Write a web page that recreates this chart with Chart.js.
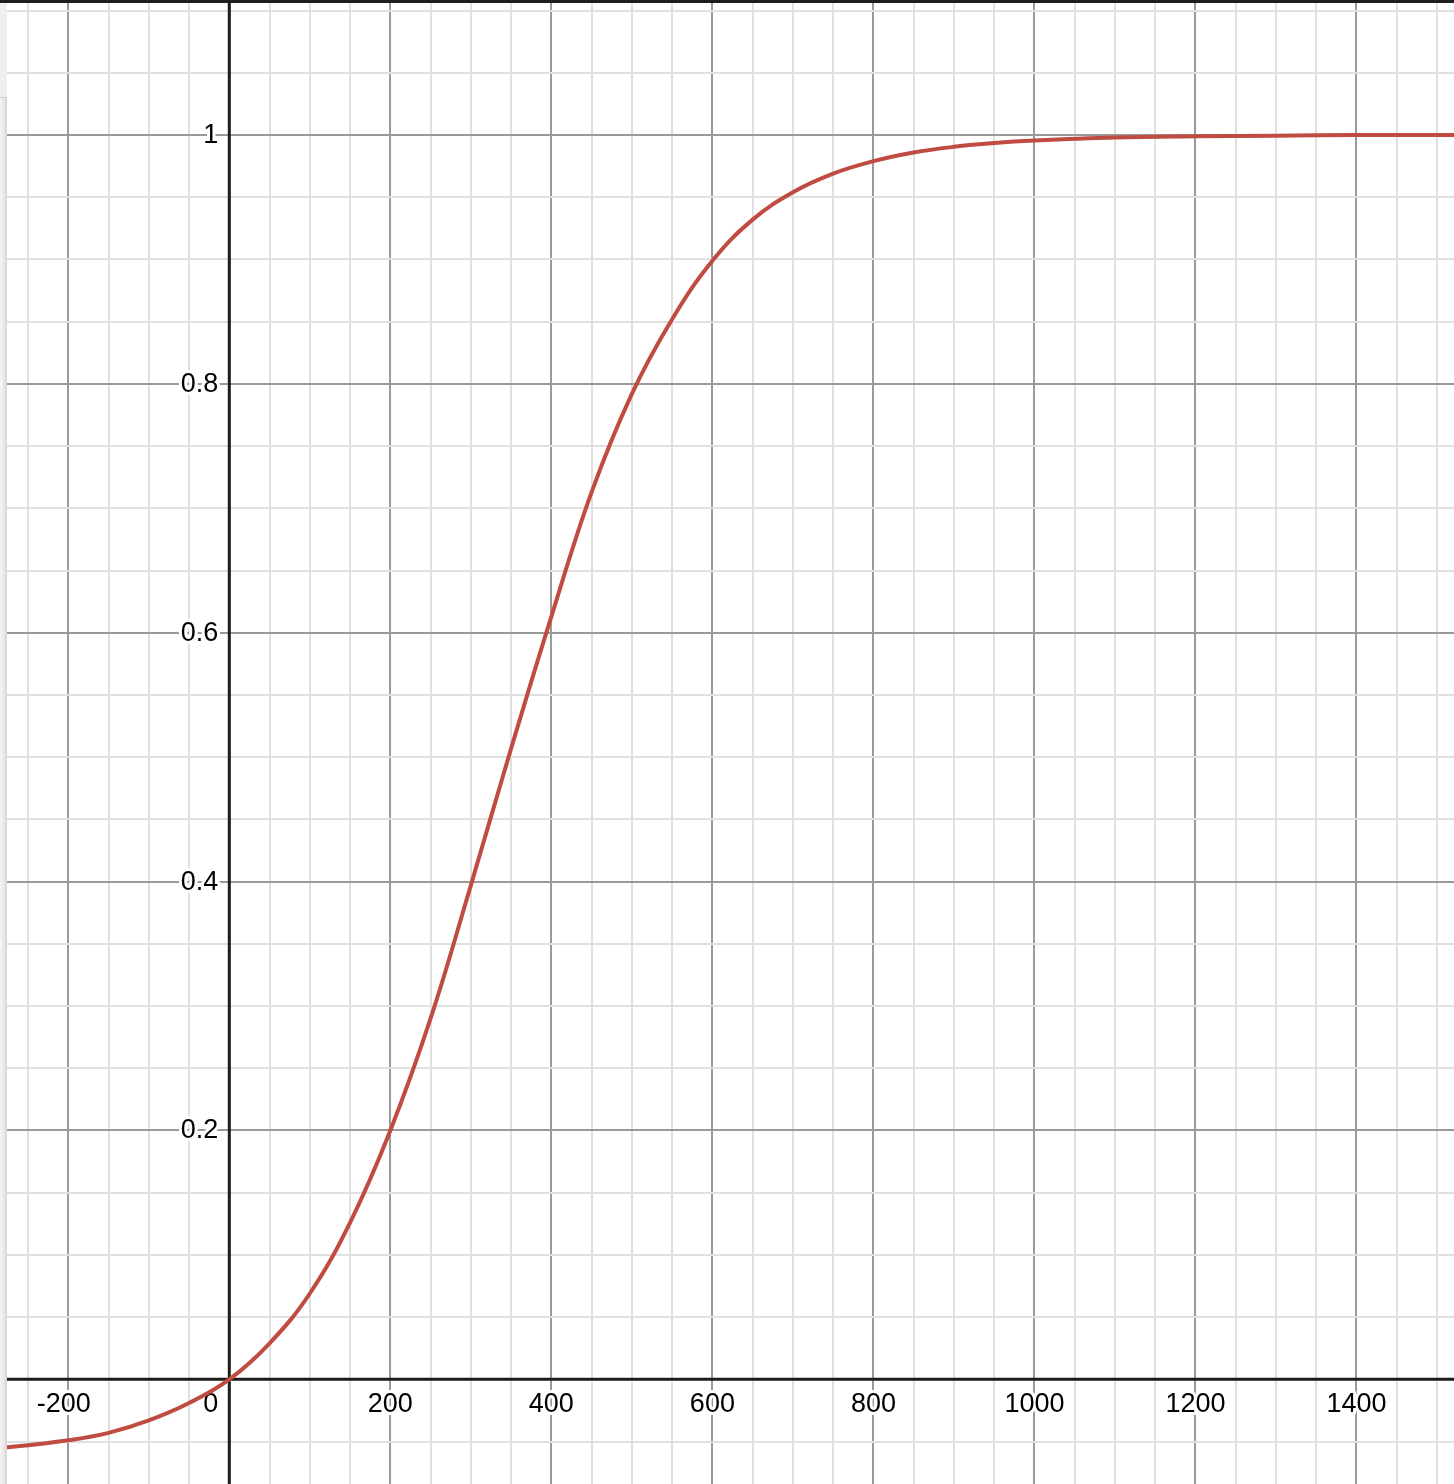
<!DOCTYPE html>
<html>
<head>
<meta charset="utf-8">
<script src="https://cdn.jsdelivr.net/npm/chart.js@4.4.0/dist/chart.umd.min.js"></script>
<style>
  html, body { margin: 0; padding: 0; background: #fff; }
  #wrap { position: relative; width: 1454px; height: 1484px; overflow: hidden; }
  #topbar { position: absolute; left: 0; top: 0; width: 1454px; height: 3px; background: #1e1e1e; }
  #side { position: absolute; left: 0; top: 0; width: 7px; height: 1484px;
          background: linear-gradient(to right, #f5f5f5, #e8e8e8 55%, #d4d4d4); }
  #sidepanel { position: absolute; left: 0; top: 3px; width: 7px; height: 94px;
               background: #efefef; border-bottom: 1px solid #cfcfcf; }
</style>
</head>
<body>
<div id="wrap">
  <canvas id="chart"></canvas>
  <div id="side"></div>
  <div id="sidepanel"></div>
  <div id="topbar"></div>
</div>
<script>
// curve
const xValues = [-285, -250, -200, -150, -100, -50, 0, 50, 100, 150, 200, 250, 300, 350, 400,
  450, 500, 550, 600, 650, 700, 750, 800, 850, 900, 950, 1000, 1100, 1200, 1300, 1400, 1525];
const yValues = [-0.055, -0.053, -0.049, -0.043, -0.033, -0.019, 0, 0.029, 0.069, 0.126, 0.2, 0.29,
  0.397, 0.507, 0.613, 0.713, 0.792, 0.852, 0.899, 0.932, 0.954, 0.969, 0.979, 0.986, 0.9905, 0.9935,
  0.9955, 0.998, 0.999, 0.9995, 1.0, 1.0];

const xTickLabels = ["-200", "0", "200", "400", "600", "800", "1000", "1200", "1400"];
const yTickLabels = ["0.2", "0.4", "0.6", "0.8", "1"];

// visible window
const xMin = -284.8, xMax = 1521.1;
const yMin = -0.0841, yMax = 1.1085;

const minorColor = "#e0e0e0";
const majorColor = "#9a9a9a";
const labelFont = "27px 'Liberation Sans', Arial, sans-serif";

const xGrid = [];
for (let v = -250; v <= 1500; v += 50) xGrid.push(v);
const yGrid = [];
for (let k = -1; k <= 22; k++) yGrid.push(Math.round(k * 5) / 100);

const axesPlugin = {
  id: "axesAndLabels",
  beforeDatasetsDraw(chart) {
    const { ctx } = chart;
    const xs = chart.scales.x, ys = chart.scales.y;
    const x0 = xs.getPixelForValue(0);
    const y0 = ys.getPixelForValue(0);
    ctx.save();
    ctx.strokeStyle = "#1c1c1c";
    ctx.lineWidth = 3;
    ctx.beginPath();
    ctx.moveTo(0, y0);
    ctx.lineTo(chart.width, y0);
    ctx.moveTo(x0, 0);
    ctx.lineTo(x0, chart.height);
    ctx.stroke();

    ctx.font = labelFont;
    ctx.lineJoin = "round";
    ctx.lineWidth = 6;
    ctx.strokeStyle = "#ffffff";
    ctx.fillStyle = "#000000";
    ctx.textBaseline = "alphabetic";

    const put = (text, px, py, align) => {
      ctx.textAlign = align;
      ctx.strokeText(text, px, py);
      ctx.fillText(text, px, py);
    };

    xTickLabels.forEach(label => {
      const v = Number(label);
      const px = xs.getPixelForValue(v);
      const py = y0 + 33;
      if (v === 0) {
        put(label, x0 - 11, py, "right");
      } else if (v < 0) {
        const w = ctx.measureText(label.slice(1)).width;
        put(label, px + w / 2, py, "right");
      } else {
        put(label, px, py, "center");
      }
    });

    yTickLabels.forEach(label => {
      const py = ys.getPixelForValue(Number(label));
      put(label, x0 - 11, py + 8, "right");
    });
    ctx.restore();
  }
};

const isMajorX = v => Math.round(v) % 200 === 0;
const isMajorY = v => Math.round(v * 100) % 20 === 0;

new Chart(document.getElementById("chart"), {
  type: "line",
  data: {
    datasets: [{
      data: xValues.map((x, i) => ({ x: x, y: yValues[i] })),
      borderColor: "#bf4b41",
      borderWidth: 4,
      pointRadius: 0,
      fill: false,
      tension: 0.4
    }]
  },
  options: {
    responsive: true,
    maintainAspectRatio: false,
    animation: false,
    layout: { padding: 0 },
    plugins: { legend: { display: false }, tooltip: { enabled: false } },
    scales: {
      x: {
        type: "linear",
        min: xMin,
        max: xMax,
        afterBuildTicks: scale => { scale.ticks = xGrid.map(v => ({ value: v })); },
        afterFit: scale => { scale.height = 0; },
        ticks: { display: false },
        border: { display: false },
        grid: {
          drawTicks: false,
          color: c => (c.tick && isMajorX(c.tick.value) ? majorColor : minorColor),
          lineWidth: 2
        }
      },
      y: {
        type: "linear",
        min: yMin,
        max: yMax,
        afterBuildTicks: scale => { scale.ticks = yGrid.map(v => ({ value: v })); },
        afterFit: scale => { scale.width = 0; },
        ticks: { display: false },
        border: { display: false },
        grid: {
          drawTicks: false,
          color: c => (c.tick && isMajorY(c.tick.value) ? majorColor : minorColor),
          lineWidth: 2
        }
      }
    }
  },
  plugins: [axesPlugin]
});
</script>
</body>
</html>
